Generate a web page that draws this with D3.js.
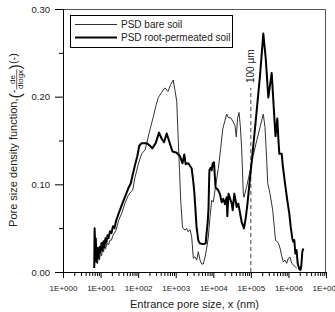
<!DOCTYPE html>
<html>
<head>
<meta charset="utf-8">
<script src="https://cdn.jsdelivr.net/npm/d3@7/dist/d3.min.js"></script>
<style>
  body { margin: 0; background: #fff; }
  svg { display: block; font-family: "Liberation Sans", Arial, sans-serif; }
</style>
</head>
<body>
<div id="chart"></div>
<script>
// PSD bare soil (thin line), entrance pore size in nm
const bareX = [6.89, 7.11, 7.46, 7.79, 8.28, 8.81, 9.37, 9.96, 10.6, 11.3, 12.0, 12.7, 13.5, 14.8, 16.3, 17.8,
  19.5, 21.4, 23.5, 25.7, 30.4, 36.5, 44.7, 54.7, 63.4, 71.7, 82.5, 101, 124, 152, 207, 253, 299, 344, 424, 519,
  623, 736, 863, 957, 1063, 1172, 1262, 1358, 1516, 1767, 1961, 2163, 2401, 2665, 2939, 3261, 3621, 3995, 4432,
  4918, 5425, 6020, 6682, 7372, 8178, 9077, 10010, 11110, 13600, 15760, 17810, 20510, 22760, 25110, 29090,
  34120, 37860, 41000, 44120, 48370, 52390, 57080, 59940, 62950, 65730, 77540, 94930, 116200, 143100, 175200,
  214500, 238000, 264100, 280800, 323300, 381600, 421000, 453100, 537800, 597000, 662400, 730700, 810900,
  900000, 992700, 1102000, 1223000, 1434000, 1661000]
const bareY = [0.0045, 0.025, 0.0114, 0.0227, 0.0091, 0.0193, 0.0136, 0.0227, 0.0182, 0.0261, 0.0227, 0.0295,
  0.0261, 0.033, 0.0307, 0.0364, 0.0364, 0.042, 0.0443, 0.0477, 0.0591, 0.067, 0.0784, 0.0875, 0.0913, 0.0932,
  0.108, 0.123, 0.135, 0.139, 0.1625, 0.177, 0.19, 0.199, 0.205, 0.21, 0.206, 0.214, 0.219, 0.207, 0.195, 0.15,
  0.116, 0.0818, 0.0511, 0.0477, 0.0497, 0.0458, 0.0483, 0.0401, 0.0156, 0.0174, 0.0136, 0.0231, 0.0136,
  0.0091, 0.0091, 0.017, 0.0273, 0.0398, 0.0625, 0.0818, 0.0799, 0.0932, 0.118, 0.141, 0.163, 0.173, 0.18,
  0.176, 0.176, 0.171, 0.167, 0.154, 0.175, 0.182, 0.167, 0.139, 0.114, 0.0898, 0.0852, 0.0977, 0.115, 0.133,
  0.15, 0.165, 0.18, 0.165, 0.127, 0.101, 0.0894, 0.0705, 0.0511, 0.0364, 0.033, 0.0273, 0.0182, 0.0114,
  0.0136, 0.0099, 0.0156, 0.017, 0.0102, 0.0068, 0.0045]

// PSD root-permeated soil (bold line)
const rootX = [6.77, 6.94, 7.24, 7.46, 7.79, 8.28, 8.81, 9.37, 9.96, 10.6, 11.3, 12.0, 12.7, 13.5, 14.4, 15.3,
  16.3, 17.8, 19.5, 21.4, 23.5, 25.7, 30.4, 36.5, 44.7, 54.7, 63.4, 71.7, 82.5, 95.0, 107, 124, 169, 207, 238,
  293, 359, 424, 488, 576, 705, 821, 1063, 1301, 1516, 1693, 1845, 2163, 2665, 2939, 3125, 3322, 3576, 3995,
  4432, 5492, 6284, 6682, 7104, 7462, 7694, 7884, 8536, 9077, 9650, 10450, 11460, 13600, 15100, 16750, 18480,
  20510, 22760, 23620, 25420, 30930, 32880, 36270, 42020, 46360, 57080, 65730, 72940, 80440, 94930, 116200,
  143100, 175200, 214500, 248500, 291400, 358900, 426200, 453100, 505800, 537800, 571900, 662400, 704400,
  810900, 933700, 1055000, 1150000, 1269000, 1349000, 1434000, 1525000, 1641000, 1766000, 1948000, 2097000,
  2202000, 2341000, 2489000]
const rootY = [0.0045, 0.05, 0.025, 0.0386, 0.0114, 0.0273, 0.0159, 0.0284, 0.0227, 0.033, 0.025, 0.0352,
  0.0284, 0.0386, 0.0341, 0.042, 0.0386, 0.0466, 0.0443, 0.0523, 0.05, 0.058, 0.067, 0.0761, 0.0856, 0.0955,
  0.101, 0.111, 0.122, 0.132, 0.144, 0.147, 0.147, 0.144, 0.141, 0.147, 0.159, 0.152, 0.148, 0.158, 0.146,
  0.1375, 0.136, 0.132, 0.124, 0.134, 0.123, 0.124, 0.118, 0.103, 0.091, 0.074, 0.052, 0.036, 0.0326, 0.0318,
  0.0326, 0.0455, 0.0568, 0.0727, 0.0989, 0.116, 0.119, 0.116, 0.124, 0.125, 0.0966, 0.0932, 0.0886, 0.0795,
  0.0835, 0.0773, 0.0852, 0.0636, 0.0892, 0.078, 0.0705, 0.0894, 0.0742, 0.078, 0.0568, 0.0497, 0.0614, 0.0761,
  0.107, 0.144, 0.184, 0.224, 0.272, 0.244, 0.199, 0.227, 0.173, 0.155, 0.175, 0.153, 0.135, 0.135, 0.122,
  0.101, 0.0818, 0.0667, 0.0515, 0.0383, 0.0345, 0.0364, 0.0212, 0.025, 0.0099, 0.0034, 0.0023, 0.0068,
  0.0231, 0.0269]

const xMajor = [1, 10, 100, 1e3, 1e4, 1e5, 1e6, 1e7]
const xTickLabels = ['1E+000', '1E+001', '1E+002', '1E+003', '1E+004', '1E+005', '1E+006', '1E+007']
const yMajor = [0, 0.1, 0.2, 0.3]
const yMinor = [0.05, 0.15, 0.25]
const seriesNames = ['PSD bare soil', 'PSD root-permeated soil']
const markerX = 1e5
const markerLabel = '100 µm'

const W = 335
const H = 312
const margin = {top: 9, right: 9, bottom: 40, left: 63}
const chartWidth = W - margin.left - margin.right
const chartHeight = H - margin.top - margin.bottom
const font = '"Liberation Sans", Arial, sans-serif'

const svg = d3.select('#chart').append('svg')
  .attr('width', W)
  .attr('height', H)

const g = svg.append('g')
  .attr('transform', `translate(${margin.left}, ${margin.top})`)

const x = d3.scaleLog().domain([1, 1e7]).range([0, chartWidth])
const y = d3.scaleLinear().domain([0, 0.3]).range([chartHeight, 0])

// frame (top / right)
g.append('path')
  .attr('d', `M0,0.5H${chartWidth - 0.5}V${chartHeight}`)
  .attr('fill', 'none')
  .attr('stroke', '#555')
  .attr('stroke-width', 1)

// x axis: minor ticks first, then labelled majors
const minorX = x.ticks().filter(d => !xMajor.includes(d))
g.append('g')
  .attr('class', 'x-minor')
  .attr('transform', `translate(0, ${chartHeight})`)
  .call(d3.axisBottom(x).tickValues(minorX).tickSize(4).tickFormat(''))
g.append('g')
  .attr('class', 'x-major')
  .attr('transform', `translate(0, ${chartHeight})`)
  .call(d3.axisBottom(x).tickValues(xMajor).tickSize(6).tickPadding(7)
    .tickFormat((d, i) => xTickLabels[i]))

g.append('g')
  .attr('class', 'y-minor')
  .call(d3.axisLeft(y).tickValues(yMinor).tickSize(4).tickFormat(''))
g.append('g')
  .attr('class', 'y-major')
  .call(d3.axisLeft(y).tickValues(yMajor).tickSize(8).tickPadding(5).tickFormat(d3.format('.2f')))

svg.selectAll('.domain').attr('stroke', '#000')
svg.selectAll('.tick line').attr('stroke', '#000')
svg.selectAll('.x-major text').attr('font-size', 8).attr('fill', '#222').style('font-family', font)
svg.selectAll('.y-major text').attr('font-size', 9.5).attr('fill', '#222').style('font-family', font)

// 100 µm marker
g.append('line')
  .attr('x1', x(markerX)).attr('x2', x(markerX))
  .attr('y1', chartHeight).attr('y2', 79)
  .attr('stroke', '#444')
  .attr('stroke-width', 1)
  .attr('stroke-dasharray', '4,3')

g.append('text')
  .attr('transform', `translate(${x(markerX) + 3.5}, 74) rotate(-90)`)
  .attr('font-size', 10)
  .attr('fill', '#222')
  .text(markerLabel)

// curves
const line = d3.line()
  .x(d => x(d[0]))
  .y(d => y(d[1]))

const bare = bareX.map((v, i) => [v, bareY[i]])
const root = rootX.map((v, i) => [v, rootY[i]])

g.append('path')
  .datum(bare)
  .attr('fill', 'none')
  .attr('stroke', '#333')
  .attr('stroke-width', 1)
  .attr('stroke-linejoin', 'round')
  .attr('d', line)

g.append('path')
  .datum(root)
  .attr('fill', 'none')
  .attr('stroke', '#000')
  .attr('stroke-width', 2)
  .attr('stroke-linejoin', 'round')
  .attr('d', line)

// legend
const legend = g.append('g').attr('transform', 'translate(7, 6)')
legend.append('rect')
  .attr('x', 0.5).attr('y', 0.5)
  .attr('width', 162).attr('height', 32)
  .attr('fill', '#fff')
  .attr('stroke', '#000')

const legendRows = legend.selectAll('.legend-row')
  .data(seriesNames)
  .enter()
  .append('g')
  .attr('class', 'legend-row')
  .attr('transform', (d, i) => `translate(0, ${9.5 + i * 13})`)

legendRows.append('line')
  .attr('x1', 5).attr('x2', 47)
  .attr('stroke', (d, i) => i ? '#000' : '#333')
  .attr('stroke-width', (d, i) => i ? 2 : 1)

legendRows.append('text')
  .attr('x', 51)
  .attr('dy', '0.35em')
  .attr('font-size', 10)
  .attr('fill', '#222')
  .text(d => d)

// x axis title
svg.append('text')
  .attr('x', margin.left + chartWidth / 2)
  .attr('y', 308)
  .attr('text-anchor', 'middle')
  .attr('font-size', 11)
  .attr('fill', '#222')
  .text('Entrance pore size, x (nm)')

// y axis title, built piece by piece in a rotated group
const yt = svg.append('g')
const parts = []
function piece(txt, size, dy) {
  const t = yt.append('text').attr('font-size', size).attr('y', dy).attr('fill', '#222').text(txt)
  parts.push(t)
  return t
}
piece('Pore size density function, ', 11, 0)
piece('(', 16, 3.5)
piece(' - ', 11, 0)
const fracStart = parts.length
const num = yt.append('text').attr('font-size', 8).attr('y', -2).attr('text-anchor', 'middle').attr('fill', '#222').text('de')
const den = yt.append('text').attr('font-size', 8).attr('y', 6).attr('text-anchor', 'middle').attr('fill', '#222').text('dlogx')
const bar = yt.append('line').attr('y1', -0.3).attr('y2', -0.3).attr('stroke', '#222').attr('stroke-width', 0.7)
piece(' )', 16, 3.5)
piece(' (-)', 11, 0)

let cursor = 0
parts.forEach((t, i) => {
  if (i === fracStart) {
    const fw = den.node().getComputedTextLength() + 1
    num.attr('x', cursor + fw / 2)
    den.attr('x', cursor + fw / 2)
    bar.attr('x1', cursor).attr('x2', cursor + fw)
    cursor += fw
  }
  t.attr('x', cursor)
  cursor += t.node().getComputedTextLength()
})
yt.attr('transform', `translate(17, ${140 + cursor / 2}) rotate(-90)`)
</script>
</body>
</html>
